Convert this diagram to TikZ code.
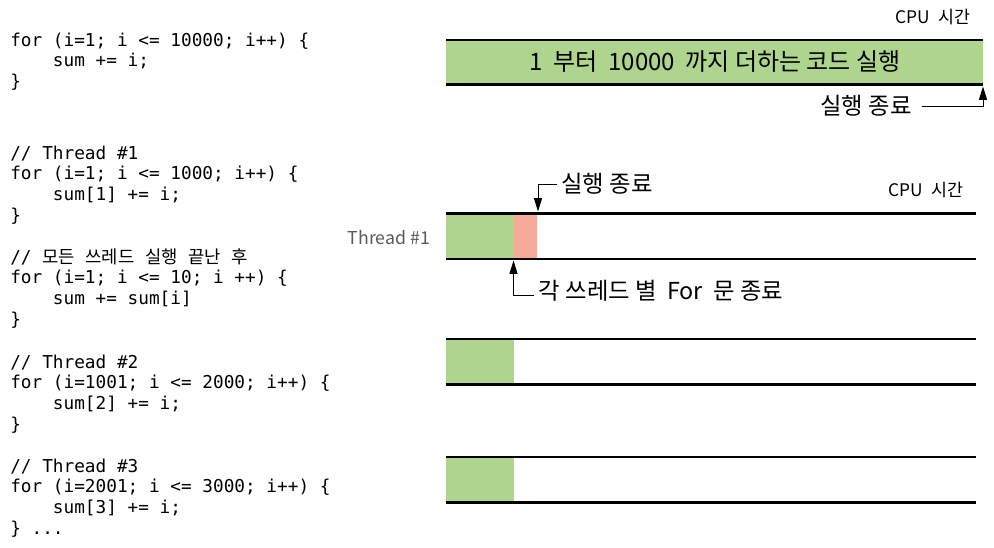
\documentclass[tikz,border=0pt]{standalone}
\usepackage{fontspec}
\setmainfont{Noto Sans CJK KR}
\setmonofont{DejaVu Sans Mono}
\newfontfamily\krfont{Noto Sans CJK KR}
\usetikzlibrary{arrows.meta}

\definecolor{donegreen}{RGB}{174,212,142}
\definecolor{joinred}{RGB}{247,170,152}
\definecolor{labelgray}{RGB}{89,89,89}

\newcommand{\codefont}{\ttfamily\fontsize{13.3}{15.6}\selectfont}
\newcommand{\ind}{\hphantom{xxxx}}
\newcommand{\kr}[1]{{\krfont #1}}

\tikzset{
    codetext/.style={anchor=base west, align=left, inner sep=0pt, font=\codefont},
    bartext/.style={font=\fontsize{18}{20}\selectfont},
    note/.style={font=\fontsize{17.5}{20}\selectfont},
    cpulabel/.style={font=\fontsize{13}{15}\selectfont},
    threadlabel/.style={font=\fontsize{13.3}{15}\selectfont, text=labelgray},
    barline/.style={line width=1.9pt},
    arr/.style={-{Triangle[length=10pt,width=6pt]}, line width=0.75pt},
}

\begin{document}
\begin{tikzpicture}[x=0.75pt, y=-0.75pt]
    \useasboundingbox (0,0) rectangle (994,547);

    % 왼쪽 코드 (기준점은 마지막 줄)
    \node[codetext] (code1) at (10,87.6) {for (i=1; i <= 10000; i++) \{\\\ind sum += i;\\\}};
    \node[codetext] (code2) at (10,221.4) {// Thread \#1\\for (i=1; i <= 1000; i++) \{\\\ind sum[1] += i;\\\}};
    \node[codetext] (code3) at (10,325.4) {// \kr{모든} \kr{쓰레드} \kr{실행} \kr{끝난} \kr{후}\\for (i=1; i <= 10; i ++) \{\\\ind sum += sum[i]\\\}};
    \node[codetext] (code4) at (10,430.4) {// Thread \#2\\for (i=1001; i <= 2000; i++) \{\\\ind sum[2] += i;\\\}};
    \node[codetext] (code5) at (10,534.4) {// Thread \#3\\for (i=2001; i <= 3000; i++) \{\\\ind sum[3] += i;\\\} ...};

    % 단일 실행
    \fill[donegreen] (446,40) rectangle (983,84.5);
    \draw[barline] (446,40) -- (983,40);
    \draw[barline] (446,84.5) -- (983,84.5);
    \node[bartext] (total) at (715,62) {1\ \ 부터\ \ 10000\ \ 까지 더하는 코드 실행};
    \node[cpulabel] (cpu1) at (933,17) {CPU\ \ 시간};
    \node[note] (end1) at (866,106) {실행 종료};
    \coordinate (total-end) at (983,86.5);
    \draw[arr] ([xshift=4pt]end1.east) -| (total-end);

    % 쓰레드 별 실행
    \foreach \top in {213.5,339,457} {
        \fill[donegreen] (446,\top) rectangle (514,\top+45.5);
    }
    \fill[joinred] (514,213.5) rectangle (537,259);
    \foreach \top in {213.5,339,457} {
        \draw[barline] (446,\top) -- (976,\top);
        \draw[barline] (446,\top+45.5) -- (976,\top+45.5);
    }
    \node[threadlabel] (th1) at (389,238) {Thread \#1};
    \node[cpulabel] (cpu2) at (926,190) {CPU\ \ 시간};

    \node[note] (end2) at (607,184) {실행 종료};
    \coordinate (t1-join) at (538,211.5);
    \draw[arr] (end2.west) -| (t1-join);

    \node[note] (end3) at (661,291) {각 쓰레드 별\ \ For\ \ 문 종료};
    \coordinate (t1-done) at (513.5,260.5);
    \draw[arr] ([yshift=-3.5pt]end3.west) -| (t1-done);
\end{tikzpicture}
\end{document}
